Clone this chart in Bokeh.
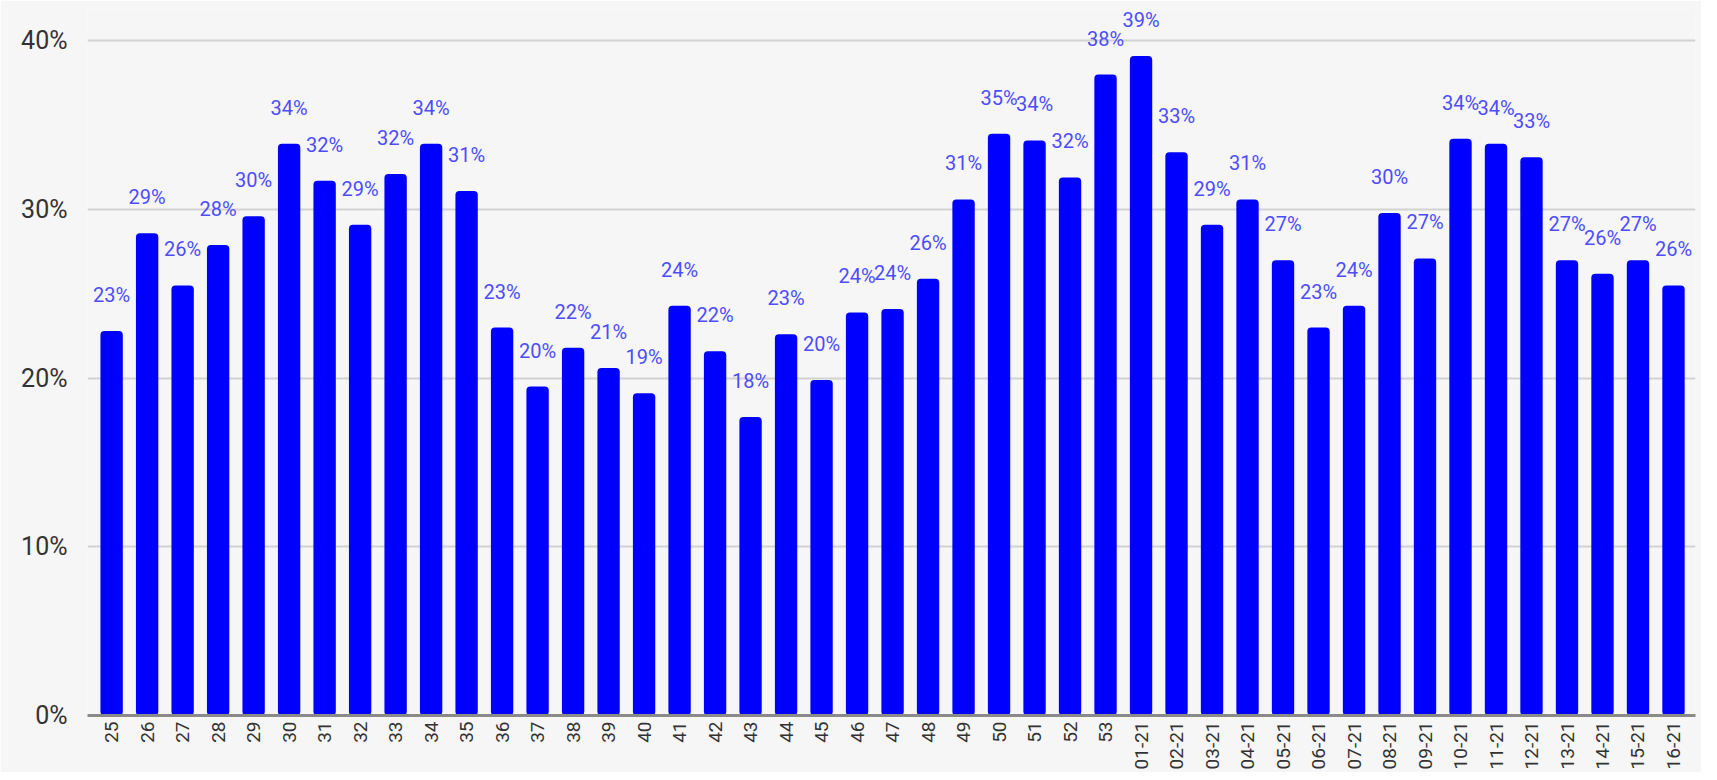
import math
from bokeh.plotting import figure
from bokeh.models import ColumnDataSource, FixedTicker, Range1d, PrintfTickFormatter
from bokeh.core.properties import value
from bokeh.embed import file_html
from bokeh.resources import INLINE

weeks = ["25", "26", "27", "28", "29", "30", "31", "32", "33", "34", "35", "36",
         "37", "38", "39", "40", "41", "42", "43", "44", "45", "46", "47", "48",
         "49", "50", "51", "52", "53", "01-21", "02-21", "03-21", "04-21", "05-21",
         "06-21", "07-21", "08-21", "09-21", "10-21", "11-21", "12-21", "13-21",
         "14-21", "15-21", "16-21"]
share_pct = [22.8, 28.6, 25.5, 27.9, 29.6, 33.9, 31.7, 29.1, 32.1, 33.9, 31.1, 23.0,
             19.5, 21.8, 20.6, 19.1, 24.3, 21.6, 17.7, 22.6, 19.9, 23.9, 24.1, 25.9,
             30.6, 34.5, 34.1, 31.9, 38.0, 39.1, 33.4, 29.1, 30.6, 27.0,
             23.0, 24.3, 29.8, 27.1, 34.2, 33.9, 33.1, 27.0,
             26.2, 27.0, 25.5]
y_ticks = [0, 10, 20, 30, 40]

xs = list(range(len(weeks)))
labels = ["%d%%" % int(v + 0.5) for v in share_pct]
src = ColumnDataSource(dict(x=xs, top=share_pct, label=labels))

BG = "#f6f6f6"
p = figure(width=1701, height=772, output_backend="svg", toolbar_location=None,
           x_range=Range1d(-0.68, len(weeks) - 1 + 0.62), y_range=Range1d(0, 41.92),
           min_border_left=87, min_border_right=6, min_border_top=8, min_border_bottom=0,
           background_fill_color=BG, border_fill_color=BG, outline_line_color=None)

p.vbar(x="x", top="top", width=0.63, bottom=0, source=src, fill_color="#0000ff",
       line_color=None, border_radius=4)
p.text(x="x", y="top", text="label", source=src, text_align="center",
       text_baseline="middle", y_offset=-36, text_font=value("Roboto"),
       text_font_size="20px", text_color="#4d4dff")

p.xgrid.visible = False
p.ygrid.grid_line_color = "#d2d2d2"
p.ygrid.grid_line_width = 2
p.ygrid.ticker = FixedTicker(ticks=y_ticks)

p.yaxis.ticker = FixedTicker(ticks=y_ticks)
p.yaxis.formatter = PrintfTickFormatter(format="%d%%")
p.yaxis.axis_line_color = None
p.yaxis.major_tick_line_color = None
p.yaxis.minor_tick_line_color = None
p.yaxis.major_label_standoff = 14
p.yaxis.major_label_text_font = "Roboto"
p.yaxis.major_label_text_font_size = "25px"
p.yaxis.major_label_text_color = "#333333"

p.xaxis.ticker = FixedTicker(ticks=xs)
p.xaxis.major_label_overrides = {i: w for i, w in enumerate(weeks)}
p.xaxis.major_label_orientation = math.pi / 2
p.xaxis.axis_line_color = "#8a8a8a"
p.xaxis.axis_line_width = 3
p.xaxis.major_tick_line_color = None
p.xaxis.minor_tick_line_color = None
p.xaxis.major_tick_out = 0
p.xaxis.major_tick_in = 0
p.xaxis.major_label_standoff = 6
p.xaxis.major_label_text_font = "Roboto"
p.xaxis.major_label_text_font_size = "19px"
p.xaxis.major_label_text_color = "#333333"

open("out.html", "w").write(file_html(p, INLINE))
